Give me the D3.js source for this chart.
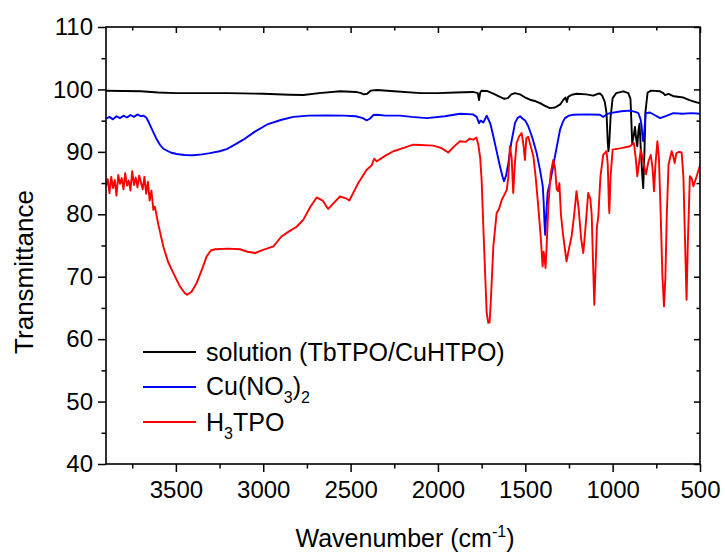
<!DOCTYPE html>
<html>
<head>
<meta charset="utf-8">
<script src="https://cdn.jsdelivr.net/npm/d3@7"></script>
<style>
  body { margin: 0; background: #fff; }
  svg { display: block; font-family: "Liberation Sans", Arial, sans-serif; }
</style>
</head>
<body>
<svg id="chart" width="725" height="552"></svg>
<script>
`use strict`;

// wavenumber (cm-1), transmittance (%)
const solution = [
  [3900,99.8],[3800,99.75],[3700,99.7],[3600,99.5],[3500,99.4],[3400,99.4],[3200,99.4],[3000,99.3],
  [2850,99.15],[2770,99.1],[2680,99.4],[2560,99.7],[2470,99.6],[2440,99.4],[2425,99.2],[2405,99.3],
  [2385,99.8],[2350,99.9],[2250,99.7],[2100,99.4],[2000,99.4],[1900,99.5],[1800,99.6],[1772,99.4],
  [1765,98.3],[1758,99.5],[1750,99.8],[1720,99.75],[1680,99.3],[1645,98.8],[1620,98.5],[1600,98.6],
  [1580,99.2],[1559,99.4],[1530,99.2],[1500,98.7],[1473,98.35],[1440,98.1],[1416,97.8],[1390,97.4],
  [1359,97.0],[1330,97.1],[1300,97.6],[1282,98.35],[1270,98.7],[1262,98.0],[1255,98.8],[1234,99.15],
  [1205,99.3],[1150,99.2],[1111,99.0],[1085,99.3],[1073,99.35],[1060,99.0],[1045,98.0],[1035,96.2],
  [1028,91.5],[1024,90.1],[1019,91.5],[1012,95.5],[1000,98.6],[980,99.4],[939,99.7],[910,99.4],
  [898,98.5],[893,95],[888,91.4],[880,92.5],[872,94],[865,92],[859,90.9],[852,93.5],[846,94.5],
  [840,91],[830,86],[825,84.2],[818,90],[812,96.5],[800,99.5],[780,99.8],[729,99.7],[710,99.4],
  [700,99.1],[680,99.3],[650,98.9],[595,98.7],[560,98.3],[538,98.1],[515,97.9],[500,97.8]
];

const cuNitrate = [
  [3900,95.3],[3880,95.6],[3860,95.2],[3840,95.7],[3820,95.4],[3800,95.8],[3780,95.5],[3760,95.9],
  [3740,95.6],[3720,96.0],[3700,95.7],[3686,95.8],[3670,95.5],[3658,94.9],[3640,93.8],[3610,92.0],
  [3590,91.1],[3572,90.5],[3530,89.9],[3496,89.65],[3450,89.5],[3400,89.45],[3350,89.6],[3305,89.8],
  [3250,90.1],[3209,90.45],[3160,91.2],[3114,91.95],[3050,93.2],[2980,94.35],[2900,95.1],[2828,95.6],
  [2740,95.8],[2637,95.85],[2540,95.8],[2470,95.7],[2430,95.4],[2408,95.05],[2390,95.3],[2370,95.9],
  [2350,95.95],[2300,95.8],[2217,95.8],[2150,95.6],[2064,95.4],[1960,95.7],[1874,96.1],[1800,96.0],
  [1778,95.6],[1765,94.6],[1755,95.0],[1740,94.7],[1721,95.8],[1700,94.5],[1683,92.5],[1665,90.2],
  [1645,87.7],[1630,86.0],[1622,85.3],[1610,86.2],[1597,88.2],[1580,91.5],[1559,94.6],[1545,95.4],
  [1530,95.7],[1515,95.3],[1500,95.0],[1483,94.1],[1460,92.3],[1435,89.8],[1415,87.0],[1400,84.5],
  [1395,82],[1390,78.5],[1386,76.7],[1380,80],[1372,83.5],[1359,85.0],[1345,87.0],[1330,89.3],
  [1315,91.5],[1301,93.55],[1285,94.8],[1273,95.4],[1250,95.8],[1225,95.95],[1150,96.0],[1073,95.95],
  [1054,95.6],[1035,96.0],[1015,96.2],[950,96.5],[901,96.6],[870,96.4],[853,96.2],[840,95.2],
  [834,94.1],[828,92],[825,91.7],[818,93.5],[811,96.2],[787,96.3],[760,95.9],[729,95.4],[700,95.7],
  [653,96.2],[600,96.1],[550,96.2],[500,96.1]
];

const h3tpo = [
  [3900,84.5],[3890,85.6],[3880,83.4],[3870,86.0],[3860,84.2],[3850,85.5],[3840,83.0],[3830,86.3],
  [3820,84.9],[3810,85.8],[3800,84.0],[3790,86.6],[3780,84.6],[3770,85.4],[3760,83.8],[3750,86.9],
  [3740,84.7],[3730,85.9],[3720,84.3],[3710,86.2],[3700,85.1],[3690,84.0],[3680,86.0],[3670,83.3],
  [3660,85.2],[3650,82.2],[3640,83.8],[3629,80.7],[3620,81.2],[3600,78.3],[3572,74.85],[3545,72.4],
  [3515,70.6],[3480,68.6],[3450,67.4],[3435,67.1],[3410,67.6],[3381,69.0],[3350,71.2],[3324,73.25],
  [3300,74.2],[3276,74.4],[3200,74.5],[3133,74.4],[3090,74.0],[3047,73.8],[3000,74.3],[2942,74.85],
  [2920,75.6],[2895,76.45],[2850,77.3],[2809,78.0],[2771,79.1],[2730,81.2],[2694,82.7],[2660,82.2],
  [2628,80.85],[2600,81.7],[2561,82.85],[2530,82.6],[2507,82.2],[2460,84.8],[2408,87.15],[2380,87.8],
  [2365,88.9],[2350,88.5],[2300,89.4],[2255,90.1],[2200,90.6],[2141,91.15],[2100,91.1],[2027,91.0],
  [1979,90.6],[1941,89.9],[1910,90.8],[1874,91.7],[1840,91.6],[1820,92.1],[1798,91.95],[1780,92.3],
  [1769,91.15],[1758,89],[1750,85.5],[1736,74.85],[1721,64.2],[1712,62.6],[1704,62.7],[1696,66.85],
  [1683,74.85],[1664,80.2],[1650,80.9],[1635,82.3],[1620,83.1],[1606,83.9],[1597,86],[1588,90.9],
  [1578,89],[1569,83.4],[1560,88],[1550,91.4],[1535,92.5],[1521,93.0],[1510,91],[1502,88.7],
  [1494,92.2],[1483,92.4],[1470,91],[1454,89.3],[1440,85.8],[1426,81.3],[1412,76.5],[1401,71.65],
  [1395,74],[1390,73],[1384,71.4],[1376,76],[1368,81.3],[1355,86.5],[1340,88.7],[1330,87.5],
  [1320,84],[1312,83.7],[1305,85],[1296,80],[1285,77],[1264,72.45],[1250,74.5],[1235,76.45],
  [1220,80],[1207,83.7],[1195,81],[1180,76],[1168,73.8],[1155,78],[1140,83.4],[1128,82.5],
  [1120,80],[1112,72],[1105,65.5],[1097,72],[1090,78],[1082,79.65],[1070,86],[1054,89.5],
  [1035,90.1],[1028,88],[1022,82],[1019,80.2],[1012,86],[1000,90.35],[950,90.6],[901,90.9],
  [878,91.4],[868,89],[859,86.1],[850,88],[839,90.35],[825,88.5],[809,86.4],[795,88.5],
  [782,89.5],[772,87.5],[763,83.7],[755,88],[744,91.7],[735,89],[725,80],[715,70],[706,65.25],
  [698,70],[690,80],[680,88],[662,90.1],[655,89.5],[645,88.2],[635,89.8],[620,90],[605,89.9],
  [595,86],[585,75],[577,66.3],[570,75],[558,86.1],[548,85.8],[538,84.5],[520,86],[500,87.8]
];

const seriesNames = [`solution (TbTPO/CuHTPO)`, `Cu(NO3)2`, `H3TPO`];
const seriesColors = [`#000000`, `#0000ff`, `#ff0000`];

const xMajor = [3500, 3000, 2500, 2000, 1500, 1000, 500];
const xMinor = [3750, 3250, 2750, 2250, 1750, 1250, 750];
const yMajor = [40, 50, 60, 70, 80, 90, 100, 110];
const yMinor = [45, 55, 65, 75, 85, 95, 105];

(function () {

  const svg = d3.select(`#chart`);

  const L = 106, R = 700, T = 27, B = 464;

  const x = d3.scaleLinear().domain([3900, 500]).range([L, R]);
  const y = d3.scaleLinear().domain([40, 110]).range([B, T]);

  svg.append(`defs`).append(`clipPath`).attr(`id`, `plot`)
    .append(`rect`).attr(`x`, L).attr(`y`, T).attr(`width`, R - L).attr(`height`, B - T);

  const line = d3.line()
    .x(d => x(d[0]))
    .y(d => y(d[1]));

  const g = svg.append(`g`).attr(`clip-path`, `url(#plot)`);

  [solution, cuNitrate, h3tpo].forEach((data, i) => {
    g.append(`path`)
      .datum(data)
      .attr(`d`, line)
      .attr(`fill`, `none`)
      .attr(`stroke`, seriesColors[i])
      .attr(`stroke-width`, 1.9)
      .attr(`stroke-linejoin`, `round`);
  });

  let styleAxis = sel => {
    sel.select(`.domain`).remove();
    sel.selectAll(`.tick line`).attr(`stroke`, `#000`).attr(`stroke-width`, 1.5);
    sel.selectAll(`text`)
      .attr(`fill`, `#000`)
      .style(`font-size`, `24px`)
      .style(`font-family`, `"Liberation Sans", Arial, sans-serif`);
  };

  // bottom
  svg.append(`g`).attr(`transform`, `translate(0,${B})`)
    .call(d3.axisBottom(x).tickValues(xMajor).tickSize(8).tickPadding(9).tickFormat(d3.format(`d`)))
    .call(styleAxis);
  svg.append(`g`).attr(`transform`, `translate(0,${B})`)
    .call(d3.axisBottom(x).tickValues(xMinor).tickSize(4.5).tickFormat(``))
    .call(styleAxis);

  // left
  svg.append(`g`).attr(`transform`, `translate(${L},0)`)
    .call(d3.axisLeft(y).tickValues(yMajor).tickSize(8).tickPadding(5).tickFormat(d3.format(`d`)))
    .call(styleAxis);
  svg.append(`g`).attr(`transform`, `translate(${L},0)`)
    .call(d3.axisLeft(y).tickValues(yMinor).tickSize(4.5).tickFormat(``))
    .call(styleAxis);

  // top and right mirror ticks, pointing inward
  svg.append(`g`).attr(`transform`, `translate(0,${T})`)
    .call(d3.axisBottom(x).tickValues(xMajor).tickSize(6).tickFormat(``))
    .call(styleAxis);
  svg.append(`g`).attr(`transform`, `translate(0,${T})`)
    .call(d3.axisBottom(x).tickValues(xMinor).tickSize(3.5).tickFormat(``))
    .call(styleAxis);
  svg.append(`g`).attr(`transform`, `translate(${R},0)`)
    .call(d3.axisLeft(y).tickValues(yMajor).tickSize(6).tickFormat(``))
    .call(styleAxis);
  svg.append(`g`).attr(`transform`, `translate(${R},0)`)
    .call(d3.axisLeft(y).tickValues(yMinor).tickSize(3.5).tickFormat(``))
    .call(styleAxis);

  svg.append(`rect`)
    .attr(`x`, L).attr(`y`, T).attr(`width`, R - L).attr(`height`, B - T)
    .attr(`fill`, `none`).attr(`stroke`, `#000`).attr(`stroke-width`, 1.6);

  // axis titles
  const xt = svg.append(`text`)
    .attr(`x`, 405).attr(`y`, 547)
    .attr(`text-anchor`, `middle`)
    .style(`font-size`, `25px`)
    .text(`Wavenumber (cm`);
  xt.append(`tspan`).attr(`dy`, -10).style(`font-size`, `16px`).text(`-1`);
  xt.append(`tspan`).attr(`dy`, 10).text(`)`);

  svg.append(`text`)
    .attr(`transform`, `translate(33,272) rotate(-90)`)
    .attr(`text-anchor`, `middle`)
    .style(`font-size`, `26px`)
    .text(`Transmittance`);

  // legend
  const legY = [352, 387, 422];
  seriesNames.forEach((name, i) => {
    svg.append(`line`)
      .attr(`x1`, 143).attr(`x2`, 196)
      .attr(`y1`, legY[i]).attr(`y2`, legY[i])
      .attr(`stroke`, seriesColors[i]).attr(`stroke-width`, 1.9);
  });

  svg.append(`text`).attr(`x`, 206).attr(`y`, legY[0] + 9)
    .style(`font-size`, `25px`).text(seriesNames[0]);

  const cu = svg.append(`text`).attr(`x`, 206).attr(`y`, legY[1] + 8)
    .style(`font-size`, `25px`).text(`Cu(NO`);
  cu.append(`tspan`).attr(`dy`, 8).style(`font-size`, `16px`).text(`3`);
  cu.append(`tspan`).attr(`dy`, -8).text(`)`);
  cu.append(`tspan`).attr(`dy`, 8).style(`font-size`, `16px`).text(`2`);

  const h3 = svg.append(`text`).attr(`x`, 206).attr(`y`, legY[2] + 9)
    .style(`font-size`, `25px`).text(`H`);
  h3.append(`tspan`).attr(`dy`, 8).style(`font-size`, `16px`).text(`3`);
  h3.append(`tspan`).attr(`dy`, -8).text(`TPO`);
})();
</script>
</body>
</html>
